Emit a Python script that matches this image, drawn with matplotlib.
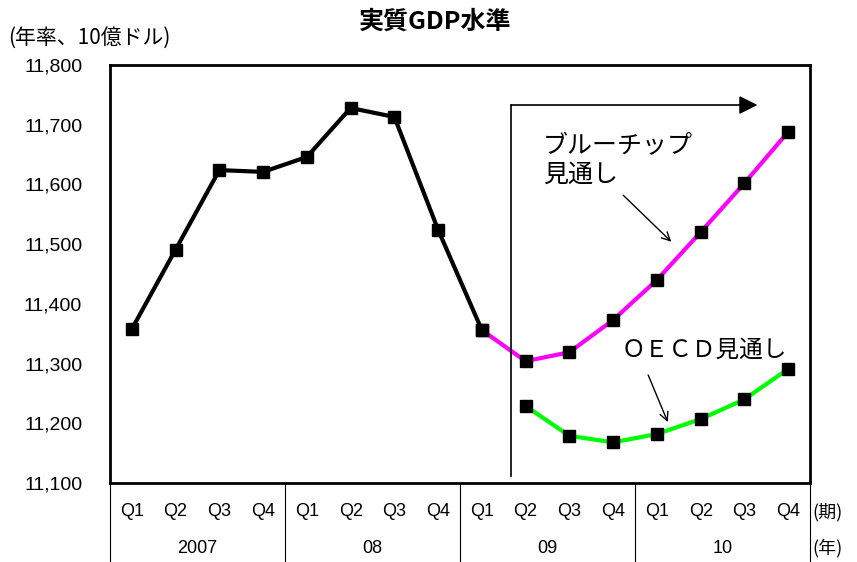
import matplotlib.pyplot as plt
import matplotlib.transforms as mtransforms

plt.rcParams['font.family'] = ['Liberation Sans', 'Noto Sans CJK JP', 'DejaVu Sans']
JP = ['Noto Sans CJK JP', 'DejaVu Sans']

# data
quarters = ['Q1', 'Q2', 'Q3', 'Q4'] * 4
years = ['2007', '08', '09', '10']
actual = [11358, 11491, 11624, 11621, 11646, 11728, 11713, 11524, 11356]
bluechip = [11356, 11304, 11319, 11373, 11440, 11520, 11602, 11688]
oecd = [11229, 11179, 11168, 11182, 11207, 11240, 11291]

fig = plt.figure(figsize=(8.57, 5.62), dpi=100)
ax = fig.add_axes([110 / 857, 79 / 562, 700 / 857, 418 / 562])

x_actual = list(range(0, 9))
x_blue = list(range(8, 16))
x_oecd = list(range(9, 16))

ax.plot(x_blue, bluechip, color='#ff00ff', lw=3, zorder=2)
ax.plot(x_oecd, oecd, color='#00ff00', lw=3, zorder=2)
ax.plot(x_actual, actual, color='black', lw=3, zorder=3)
for xs, ys in [(x_actual, actual), (x_blue, bluechip), (x_oecd, oecd)]:
    ax.plot(xs, ys, ls='none', marker='s', ms=9, color='black', zorder=4)

ax.set_xlim(-0.5, 15.5)
ax.set_ylim(11100, 11800)
ax.set_yticks(range(11100, 11801, 100))
ax.set_yticklabels([f'{v:,}' for v in range(11100, 11801, 100)], fontsize=14)
ax.tick_params(axis='y', length=0, pad=20)
ax.set_xticks([])
for s in ax.spines.values():
    s.set_linewidth(2)

# forecast boundary and arrow
xb = 8.67
ax.plot([xb, xb], [11112, 11733], color='black', lw=1.2)
ax.annotate('', xy=(14.3, 11733), xytext=(xb, 11733),
            arrowprops=dict(arrowstyle='-|>', color='black', lw=1.2,
                            mutation_scale=28, shrinkA=0, shrinkB=0))

arrow = dict(arrowstyle='->', color='black', lw=1, shrinkA=0, shrinkB=0,
             mutation_scale=15)
ax.text(9.4, 11640, 'ブルーチップ\n見通し', fontsize=18, family=JP,
        va='center', ha='left', linespacing=1.1)
ax.annotate('', xy=(12.33, 11504), xytext=(11.23, 11582), arrowprops=arrow)
ax.text(11.2, 11323, 'ＯＥＣＤ見通し', fontsize=17, family=JP, va='center', ha='left')
ax.annotate('', xy=(12.25, 11202), xytext=(11.8, 11281), arrowprops=arrow)

# category axis table
trans = mtransforms.blended_transform_factory(ax.transData, ax.transAxes)
for i, q in enumerate(quarters):
    ax.text(i, -0.069, q, transform=trans, ha='center', va='center', fontsize=13)
for j, y in enumerate(years):
    ax.text(4 * j + 1.5, -0.156, y, transform=trans, ha='center', va='center', fontsize=13)
for j in range(5):
    ax.plot([4 * j - 0.5, 4 * j - 0.5], [0, -0.2], transform=trans, color='black',
            lw=0.8, clip_on=False)
ax.text(1.004, -0.069, '(期)', transform=ax.transAxes, ha='left', va='center',
        fontsize=13, family=JP)
ax.text(1.004, -0.156, '(年)', transform=ax.transAxes, ha='left', va='center',
        fontsize=13, family=JP)

fig.text(435 / 857, 1 - 22 / 562, '実質GDP水準', ha='center', va='center',
         fontsize=18, fontweight='bold', family=JP)
fig.text(8 / 857, 1 - 38 / 562, '(年率、10億ドル)', ha='left', va='center',
         fontsize=15, family=JP)

fig.savefig('out.png', dpi=100)
